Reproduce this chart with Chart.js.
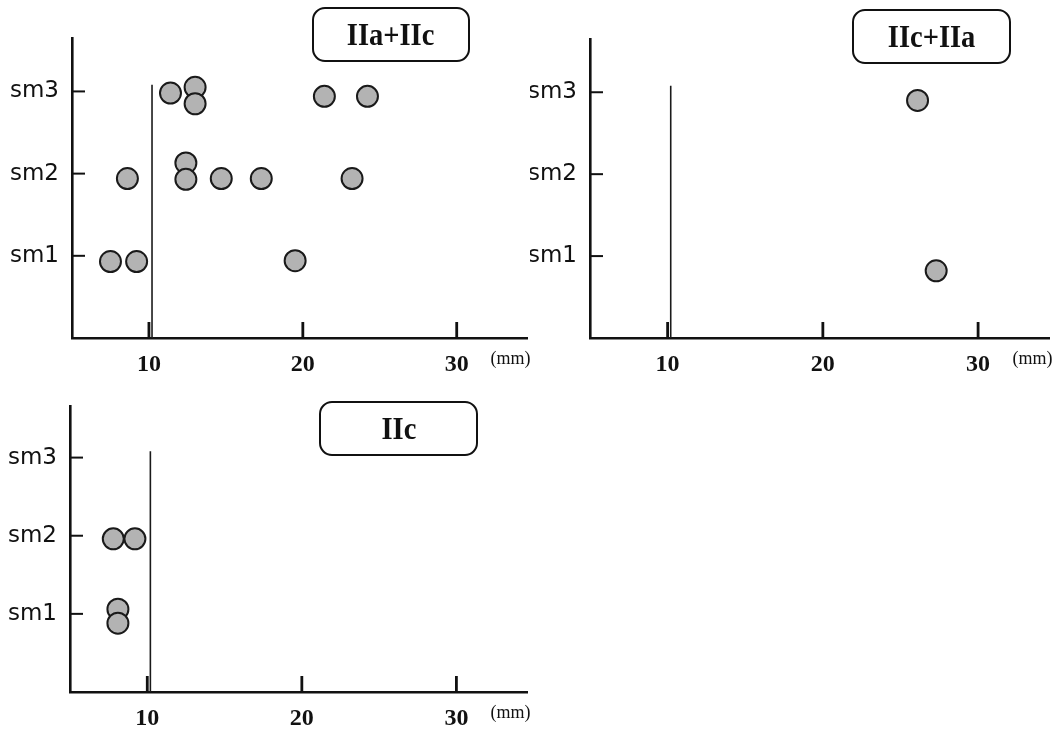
<!DOCTYPE html>
<html>
<head>
<meta charset="utf-8">
<script src="https://cdn.jsdelivr.net/npm/chart.js@4/dist/chart.umd.min.js"></script>
<style>
  body { margin: 0; background: #fff; }
  #wrap { position: relative; width: 1062px; height: 733px; }
  canvas { position: absolute; }
  .tag {
    position: absolute;
    box-sizing: border-box;
    border: 2.5px solid #111;
    border-radius: 13px;
    font: bold 31px "Liberation Serif", serif;
    color: #111;
    display: flex;
    align-items: center;
    justify-content: center;
  }
  .tag span { display: inline-block; transform: scaleX(0.92); }
</style>
</head>
<body>
<div id="wrap">
  <canvas id="c1" width="540" height="375" style="left:0;top:0"></canvas>
  <canvas id="c2" width="532" height="375" style="left:530px;top:0"></canvas>
  <canvas id="c3" width="540" height="353" style="left:0;top:380px"></canvas>
  <div class="tag" style="left:312px;top:7px;width:158px;height:55px"><span>IIa+IIc</span></div>
  <div class="tag" style="left:852px;top:9px;width:159px;height:55px"><span>IIc+IIa</span></div>
  <div class="tag" style="left:319px;top:401px;width:159px;height:55px"><span>IIc</span></div>
</div>
<script>
// Data
const xTicks = [10, 20, 30];
const yTickValues = [1, 2, 3];
const yTickLabels = ['sm1', 'sm2', 'sm3'];

// 10 mm cut-off line
const cutoffX = [10.2, 10.2];
const cutoffY = [0, 3.08];

// IIa+IIc
const iiaIicX = [11.4, 13.0, 13.0, 21.4, 24.2, 8.6, 12.4, 12.4, 14.7, 17.3, 23.2, 7.5, 9.2, 19.5];
const iiaIicY = [2.98, 3.05, 2.85, 2.94, 2.94, 1.94, 2.13, 1.93, 1.94, 1.94, 1.94, 0.93, 0.93, 0.94];

// IIc+IIa
const iicIiaX = [26.1, 27.3];
const iicIiaY = [2.9, 0.82];

// IIc
const iicX = [7.8, 9.2, 8.1, 8.1];
const iicY = [1.96, 1.96, 1.06, 0.88];

// ticks pointing inwards + (mm) label
const innerTicks = {
    id: 'innerTicks',
    afterDraw(chart) {
        const { ctx, chartArea: a, scales: { x, y } } = chart;
        ctx.save();
        ctx.strokeStyle = '#111';
        ctx.lineWidth = 2.8;
        x.ticks.forEach(t => {
            const px = x.getPixelForValue(t.value);
            ctx.beginPath();
            ctx.moveTo(px, a.bottom);
            ctx.lineTo(px, a.bottom - 16);
            ctx.stroke();
        });
        ctx.lineWidth = 2;
        y.ticks.forEach(t => {
            const py = y.getPixelForValue(t.value);
            ctx.beginPath();
            ctx.moveTo(a.left, py);
            ctx.lineTo(a.left + 13, py);
            ctx.stroke();
        });
        ctx.fillStyle = '#111';
        ctx.font = '18px "Liberation Serif"';
        ctx.textAlign = 'right';
        ctx.textBaseline = 'middle';
        ctx.fillText('(mm)', a.right + 3, a.bottom + 21);
        ctx.restore();
    }
};

function makeChart(id, xs, ys, pad, yWidth, xHeight) {
    const points = xs.map((v, i) => ({ x: v, y: ys[i] }));
    const cutoff = cutoffX.map((v, i) => ({ x: v, y: cutoffY[i] }));
    new Chart(document.getElementById(id), {
        type: 'scatter',
        data: {
            datasets: [
                {
                    data: points,
                    pointRadius: 10.5,
                    pointBorderWidth: 2,
                    backgroundColor: '#b3b3b3',
                    borderColor: '#1a1a1a'
                },
                {
                    type: 'line',
                    data: cutoff,
                    borderColor: '#1a1a1a',
                    borderWidth: 1.6,
                    pointRadius: 0,
                    fill: false
                }
            ]
        },
        options: {
            responsive: false,
            animation: false,
            events: [],
            layout: { padding: pad },
            plugins: { legend: { display: false }, tooltip: { enabled: false } },
            scales: {
                x: {
                    type: 'linear',
                    min: 5,
                    max: 34.6,
                    afterFit: s => { s.height = xHeight; },
                    afterBuildTicks: s => { s.ticks = xTicks.map(v => ({ value: v })); },
                    grid: { display: false, drawTicks: false },
                    border: { display: true, color: '#111', width: 2.6 },
                    ticks: {
                        padding: 12,
                        autoSkip: false,
                        maxRotation: 0,
                        color: '#111',
                        font: { family: 'Liberation Serif', size: 24, weight: 'bold' },
                        callback: v => String(v)
                    }
                },
                y: {
                    type: 'linear',
                    min: 0,
                    max: 3.65,
                    afterFit: s => { s.width = yWidth; },
                    afterBuildTicks: s => { s.ticks = yTickValues.map(v => ({ value: v })); },
                    grid: { display: false, drawTicks: false },
                    border: { display: true, color: '#111', width: 2.6 },
                    ticks: {
                        padding: 13,
                        autoSkip: false,
                        color: '#111',
                        font: { family: 'DejaVu Sans', size: 23 },
                        callback: (v, i) => yTickLabels[i]
                    }
                }
            }
        },
        plugins: [innerTicks]
    });
}

makeChart('c1', iiaIicX, iiaIicY, { left: 0, right: 10, top: 38, bottom: 0 }, 72, 37);
makeChart('c2', iicIiaX, iicIiaY, { left: 0, right: 10, top: 39, bottom: 0 }, 60, 37);
makeChart('c3', iicX, iicY, { left: 0, right: 11, top: 13, bottom: 0 }, 70, 41);
</script>
</body>
</html>
